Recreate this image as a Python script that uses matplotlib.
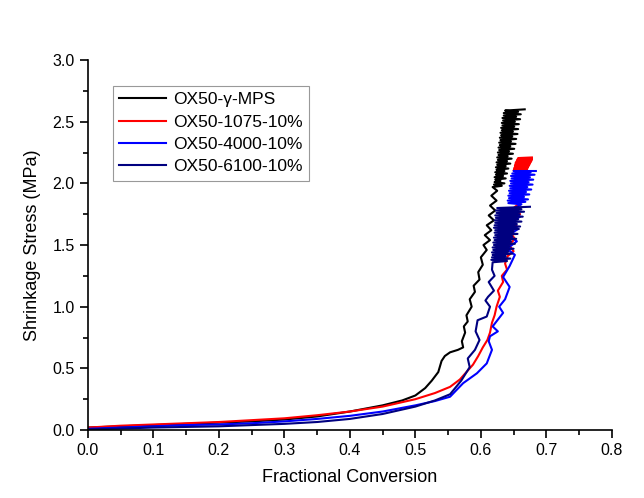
import matplotlib
matplotlib.use("Agg")
import matplotlib.pyplot as plt
from matplotlib.ticker import MultipleLocator

plt.rcParams['font.family'] = ['Liberation Sans', 'DejaVu Sans']

# OX50-gamma-MPS (black)
mps_x = [0.0, 0.05, 0.1, 0.15, 0.2, 0.25, 0.3, 0.35, 0.4, 0.45, 0.48, 0.5, 0.515,
         0.525, 0.535, 0.54, 0.545,
         0.553, 0.565, 0.573, 0.571, 0.576, 0.574, 0.580, 0.578, 0.586, 0.583,
         0.591, 0.589, 0.598, 0.596, 0.603, 0.600, 0.609, 0.604, 0.614, 0.606,
         0.616, 0.609, 0.620, 0.612, 0.622, 0.614, 0.624, 0.616, 0.625, 0.618,
         0.632, 0.620, 0.636, 0.621, 0.630, 0.622, 0.638, 0.621, 0.634, 0.623,
         0.640, 0.622, 0.636, 0.624, 0.642, 0.623, 0.638, 0.625, 0.645, 0.624,
         0.640, 0.626, 0.647, 0.625, 0.641, 0.627, 0.649, 0.626, 0.643, 0.628,
         0.651, 0.627, 0.645, 0.629, 0.653, 0.628, 0.646, 0.630, 0.654, 0.629,
         0.648, 0.631, 0.656, 0.630, 0.649, 0.632, 0.657, 0.631, 0.651, 0.633,
         0.658, 0.632, 0.652, 0.634, 0.660, 0.633, 0.654, 0.635, 0.661, 0.635,
         0.657, 0.637, 0.667]
mps_y = [0.02, 0.03, 0.04, 0.05, 0.06, 0.07, 0.085, 0.11, 0.15, 0.2, 0.24, 0.28, 0.34,
         0.4, 0.47, 0.56, 0.6,
         0.63, 0.65, 0.67, 0.72, 0.79, 0.84, 0.88, 0.93, 1.0, 1.06,
         1.12, 1.17, 1.22, 1.28, 1.34, 1.40, 1.46, 1.50, 1.54, 1.58,
         1.62, 1.66, 1.70, 1.74, 1.78, 1.82, 1.86, 1.90, 1.94, 1.97,
         1.98, 1.99, 2.00, 2.01, 2.02, 2.03, 2.04, 2.05, 2.06, 2.07,
         2.08, 2.09, 2.10, 2.11, 2.12, 2.13, 2.14, 2.15, 2.16, 2.17,
         2.18, 2.19, 2.20, 2.21, 2.22, 2.23, 2.24, 2.25, 2.26, 2.27,
         2.28, 2.29, 2.30, 2.31, 2.32, 2.33, 2.34, 2.35, 2.36, 2.37,
         2.38, 2.39, 2.40, 2.41, 2.42, 2.43, 2.44, 2.45, 2.46, 2.47,
         2.48, 2.49, 2.50, 2.51, 2.52, 2.53, 2.54, 2.55, 2.56, 2.57,
         2.58, 2.59, 2.60]

# OX50-1075-10% (red)
r1075_x = [0.0, 0.05, 0.1, 0.15, 0.2, 0.25, 0.3, 0.35, 0.4, 0.45, 0.5, 0.53, 0.553,
           0.568, 0.588, 0.596, 0.603, 0.610, 0.614, 0.617, 0.621, 0.624, 0.629,
           0.626, 0.634, 0.632, 0.640, 0.637, 0.641,
           0.650, 0.643, 0.652, 0.645, 0.655, 0.648, 0.660, 0.650, 0.662, 0.652,
           0.665, 0.654, 0.667, 0.655,
           0.668, 0.650, 0.670, 0.651, 0.671, 0.651, 0.672, 0.652, 0.673, 0.652,
           0.674, 0.653, 0.675, 0.653, 0.676, 0.654, 0.677, 0.655, 0.678, 0.656,
           0.678, 0.657, 0.678]
r1075_y = [0.02, 0.035, 0.045, 0.055, 0.065, 0.08, 0.095, 0.12, 0.15, 0.19, 0.25, 0.3, 0.35,
           0.41, 0.53, 0.60, 0.67, 0.73, 0.79, 0.87, 0.93, 1.0, 1.08,
           1.13, 1.2, 1.25, 1.3, 1.35, 1.41,
           1.45, 1.5, 1.55, 1.6, 1.65, 1.7, 1.75, 1.8, 1.85, 1.9,
           1.95, 2.0, 2.05, 2.09,
           2.10, 2.105, 2.11, 2.115, 2.12, 2.125, 2.13, 2.135, 2.14, 2.145,
           2.15, 2.155, 2.16, 2.165, 2.17, 2.175, 2.18, 2.185, 2.19, 2.195,
           2.20, 2.205, 2.21]

# OX50-4000-10% (blue)
r4000_x = [0.0, 0.05, 0.1, 0.15, 0.2, 0.25, 0.3, 0.35, 0.4, 0.45, 0.5, 0.53, 0.553,
           0.573, 0.594, 0.609, 0.617, 0.612, 0.614, 0.626, 0.618, 0.634, 0.628,
           0.637, 0.644, 0.634, 0.644, 0.652, 0.640, 0.655, 0.642, 0.657, 0.644,
           0.660, 0.645, 0.662,
           0.642, 0.668, 0.641, 0.672, 0.643, 0.666, 0.642, 0.674, 0.644, 0.669,
           0.643, 0.677, 0.645, 0.671, 0.644, 0.679, 0.646, 0.673, 0.645, 0.680,
           0.647, 0.675, 0.646, 0.682, 0.648, 0.676, 0.650, 0.684]
r4000_y = [0.01, 0.02, 0.03, 0.04, 0.045, 0.055, 0.07, 0.09, 0.115, 0.15, 0.2, 0.235, 0.27,
           0.38, 0.46, 0.54, 0.65, 0.72, 0.76, 0.8, 0.84, 0.95, 1.0,
           1.06, 1.16, 1.24, 1.33, 1.42, 1.47, 1.53, 1.58, 1.63, 1.68,
           1.73, 1.78, 1.83,
           1.84, 1.85, 1.86, 1.87, 1.88, 1.89, 1.90, 1.91, 1.92, 1.93,
           1.94, 1.95, 1.96, 1.97, 1.98, 1.99, 2.00, 2.01, 2.02, 2.03,
           2.04, 2.05, 2.06, 2.07, 2.08, 2.09, 2.10, 2.10]

# OX50-6100-10% (navy)
r6100_x = [0.0, 0.05, 0.1, 0.15, 0.2, 0.25, 0.3, 0.35, 0.4, 0.45, 0.5, 0.53, 0.553,
           0.57, 0.583, 0.580, 0.591, 0.598, 0.592, 0.595, 0.609, 0.614, 0.607,
           0.611, 0.620, 0.612, 0.621, 0.617,
           0.618, 0.640, 0.616, 0.645, 0.617, 0.638, 0.618, 0.648, 0.617, 0.642,
           0.619, 0.650, 0.618, 0.644, 0.620, 0.652, 0.619, 0.646, 0.621, 0.654,
           0.620, 0.648, 0.622, 0.656, 0.621, 0.650, 0.622, 0.658, 0.620, 0.660,
           0.621, 0.655, 0.622, 0.662, 0.621, 0.657, 0.623, 0.664, 0.622, 0.659,
           0.624, 0.666, 0.623, 0.662, 0.625, 0.675]
r6100_y = [0.005, 0.012, 0.02, 0.025, 0.03, 0.04, 0.05, 0.065, 0.09, 0.13, 0.19, 0.24, 0.29,
           0.4, 0.51, 0.58, 0.65, 0.73, 0.8, 0.89, 0.92, 1.0, 1.05,
           1.08, 1.13, 1.2, 1.25, 1.3,
           1.36, 1.37, 1.38, 1.39, 1.40, 1.41, 1.42, 1.43, 1.44, 1.45,
           1.46, 1.47, 1.48, 1.49, 1.50, 1.51, 1.52, 1.53, 1.54, 1.55,
           1.56, 1.57, 1.58, 1.59, 1.60, 1.61, 1.62, 1.63, 1.64, 1.65,
           1.66, 1.67, 1.68, 1.69, 1.70, 1.71, 1.72, 1.73, 1.74, 1.75,
           1.76, 1.77, 1.78, 1.79, 1.80, 1.81]

labels = ['OX50-\u03b3-MPS', 'OX50-1075-10%', 'OX50-4000-10%', 'OX50-6100-10%']
colors = ['black', '#ff0000', '#0000ff', '#000080']

fig = plt.figure(figsize=(6.44, 4.98), dpi=100)
ax = fig.add_axes([0.1366, 0.1365, 0.8134, 0.743])

series = [(mps_x, mps_y), (r1075_x, r1075_y), (r4000_x, r4000_y), (r6100_x, r6100_y)]
for (x, y), lab, c in zip(series, labels, colors):
    ax.plot(x, y, color=c, lw=1.5, label=lab)

ax.set_xlim(0, 0.8)
ax.set_ylim(0, 3.0)
ax.xaxis.set_major_locator(MultipleLocator(0.1))
ax.xaxis.set_minor_locator(MultipleLocator(0.05))
ax.yaxis.set_major_locator(MultipleLocator(0.5))
ax.yaxis.set_minor_locator(MultipleLocator(0.25))
ax.tick_params(which='major', direction='out', length=6, width=1.2, labelsize=11.5)
ax.tick_params(which='minor', direction='out', length=3.5, width=1.2)
ax.spines['top'].set_visible(False)
ax.spines['right'].set_visible(False)
ax.spines['left'].set_linewidth(1.2)
ax.spines['bottom'].set_linewidth(1.2)

ax.set_xlabel('Fractional Conversion', fontsize=13, labelpad=8)
ax.set_ylabel('Shrinkage Stress (MPa)', fontsize=13, labelpad=8)

leg = ax.legend(loc='upper left', bbox_to_anchor=(0.047, 0.93), borderaxespad=0,
                fontsize=12.5, fancybox=False, framealpha=1, handlelength=2.75,
                labelspacing=0.42, handletextpad=0.4, borderpad=0.35)
leg.get_frame().set_edgecolor('#999999')
leg.get_frame().set_linewidth(0.8)

fig.savefig('out.png', dpi=100)
